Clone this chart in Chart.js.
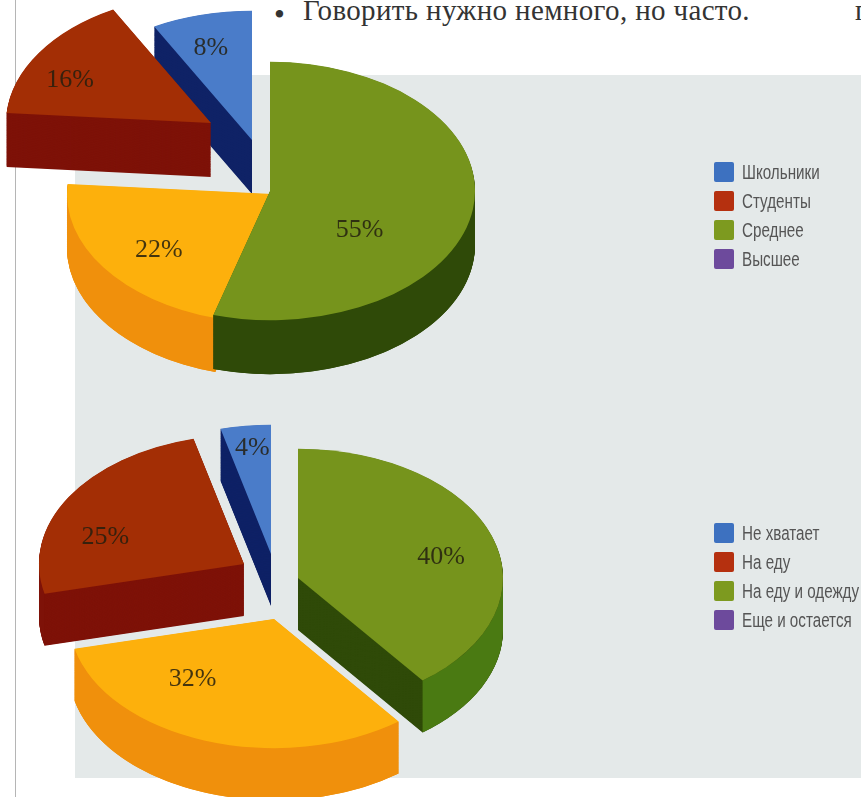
<!DOCTYPE html>
<html>
<head>
<meta charset="utf-8">
<style>
    html,body{margin:0;padding:0;background:#fff;}
    body{width:861px;height:797px;overflow:hidden;position:relative;}
    #bg{position:absolute;left:75px;top:75px;width:786px;height:703px;background:#e4e9e9;}
    #rule{position:absolute;left:15px;top:0;width:1px;height:797px;background:#b5b5b5;}
    canvas{position:absolute;left:0;}
    #topText{position:absolute;left:303px;top:-6px;font:29px "Liberation Serif",serif;letter-spacing:0.35px;color:#333;white-space:pre;}
    #topBullet{position:absolute;left:274px;top:-3px;font:31px "Liberation Serif",serif;color:#333;}
    #topLetter{position:absolute;left:855px;top:-6px;font:29px "Liberation Serif",serif;color:#333;}
    .legend{position:absolute;left:714px;}
    .row{position:absolute;left:0;width:147px;height:20px;white-space:nowrap;}
    .swatch{position:absolute;left:0;top:0;width:20px;height:20px;border-radius:2px;}
    .name{position:absolute;left:28px;top:-2px;font:20px/24px "Liberation Sans",sans-serif;color:#555;transform:scaleX(0.76);transform-origin:0 0;}
</style>
</head>
<body>
<div id="bg"></div>
<div id="rule"></div>
<div id="topBullet">•</div>
<div id="topText">Говорить нужно немного, но часто.</div>
<div id="topLetter">п</div>
<canvas id="pieTop" width="861" height="400" style="top:0"></canvas>
<canvas id="pieBottom" width="861" height="397" style="top:400px"></canvas>
<div class="legend" id="legendTop" style="top:162px"></div>
<div class="legend" id="legendBottom" style="top:523px"></div>

<script src="https://cdn.jsdelivr.net/npm/chart.js@4"></script>
<script>
// data, in legend order
const topLabels = ["Школьники","Студенты","Среднее","Высшее"];
const topValues = [8,16,55,22];
const bottomLabels = ["Не хватает","На еду","На еду и одежду","Еще и остается"];
const bottomValues = [4,25,40,32];

// the slices go round clockwise from 12 o'clock in this order
const pieOrder = [2,3,1,0];
// paint order: blue, red, orange, green
const paintOrder = [3,2,1,0];

// look of the slices (blue, red, green, orange)
const faceColors = ["#4a7cc9","#a32e05","#76941c","#fdb00c"];
const wallColors = ["#0f2266","#7e1208","#2f4a08","#f0900c"];
const bottomRimColors = ["#0f2266","#7e1208","#4a7a12","#f0900c"];
const legendColors = ["#3d71c0","#b5300f","#7d9a1f","#6d4a9c"];

// how far each slice is pulled out, px on screen
const topExplodeX = [-18,-59,0,2];
const topExplodeY = [-51,-68,0,3];
const bottomExplodeX = [-27,-54,0,-24];
const bottomExplodeY = [-24,-14,0,41];

// label nudges from the middle of the slice
const topLabelX = [-16,-55,-12,-29];
const topLabelY = [-29,-8,30,19];
const bottomLabelX = [-6,-51,46,-47];
const bottomLabelY = [-42,7,0,-1];

const pie3d = {
    id:"pie3d",
    beforeDatasetsDraw(chart,args,opts){
        const ctx = chart.ctx;
        const arcs = chart.getDatasetMeta(0).data;
        const squash = opts.squash;
        const depth = opts.depth/squash;

        paintOrder.forEach(function(s){
            const arc = arcs[s];
            const i = pieOrder[s];
            const R = arc.outerRadius;
            ctx.save();
            ctx.translate(opts.explodeX[i],opts.explodeY[i]);
            ctx.translate(arc.x,arc.y);
            ctx.scale(1,squash);
            ctx.translate(-arc.x,-arc.y);

            // side of the slice: the same wedge stacked downwards
            ctx.fillStyle = opts.walls[i];
            for(let d=depth;d>0;d-=1){
                ctx.beginPath();
                ctx.moveTo(arc.x,arc.y+d);
                ctx.arc(arc.x,arc.y+d,R,arc.startAngle,arc.endAngle);
                ctx.closePath();
                ctx.fill();
            }

            // outer rim, only the part turned to the viewer
            ctx.fillStyle = opts.rims[i];
            [-2,0,2].forEach(function(k){
                const a = Math.max(arc.startAngle,k*Math.PI);
                const b = Math.min(arc.endAngle,(k+1)*Math.PI);
                if(b>a){
                    ctx.beginPath();
                    ctx.arc(arc.x,arc.y,R,a,b);
                    ctx.arc(arc.x,arc.y+depth,R,b,a,true);
                    ctx.closePath();
                    ctx.fill();
                }
            });

            arc.draw(ctx);
            ctx.restore();
        });

        // percent labels
        ctx.save();
        ctx.font = opts.font;
        ctx.fillStyle = "rgba(35,30,15,0.85)";
        ctx.textAlign = "center";
        ctx.textBaseline = "middle";
        arcs.forEach(function(arc,s){
            const i = pieOrder[s];
            const p = arc.getCenterPoint();
            const x = p.x+opts.explodeX[i]+opts.labelX[i];
            const y = arc.y+(p.y-arc.y)*squash+opts.explodeY[i]+opts.labelY[i];
            ctx.fillText(chart.data.datasets[0].data[s]+"%",x,y);
        });
        ctx.restore();

        return false;
    }
};

function drawPie(id,labels,values,padding,extra){
    new Chart(document.getElementById(id),{
        type:"pie",
        data:{
            labels:pieOrder.map(i=>labels[i]),
            datasets:[{
                data:pieOrder.map(i=>values[i]),
                backgroundColor:pieOrder.map(i=>faceColors[i]),
                borderWidth:0
            }]
        },
        options:{
            responsive:false,
            animation:false,
            radius:205,
            layout:{padding:padding},
            plugins:{
                legend:{display:false},
                tooltip:{enabled:false},
                pie3d:Object.assign({squash:0.63,font:"26px 'Liberation Serif',serif"},extra)
            }
        },
        plugins:[pie3d]
    });
}

function drawLegend(id,labels){
    const box = document.getElementById(id);
    labels.forEach(function(text,i){
        const row = document.createElement("div");
        row.className = "row";
        row.style.top = (i*29)+"px";
        row.innerHTML = '<span class="swatch" style="background:'+legendColors[i]+'"></span><span class="name"></span>';
        row.querySelector(".name").textContent = text;
        box.appendChild(row);
    });
}

drawPie("pieTop",topLabels,topValues,{right:321,bottom:18},{
    depth:54,walls:wallColors,rims:wallColors,
    explodeX:topExplodeX,explodeY:topExplodeY,labelX:topLabelX,labelY:topLabelY
});
drawPie("pieBottom",bottomLabels,bottomValues,{right:265,bottom:41},{
    depth:52,walls:wallColors,rims:bottomRimColors,
    explodeX:bottomExplodeX,explodeY:bottomExplodeY,labelX:bottomLabelX,labelY:bottomLabelY
});
drawLegend("legendTop",topLabels);
drawLegend("legendBottom",bottomLabels);
</script>
</body>
</html>
